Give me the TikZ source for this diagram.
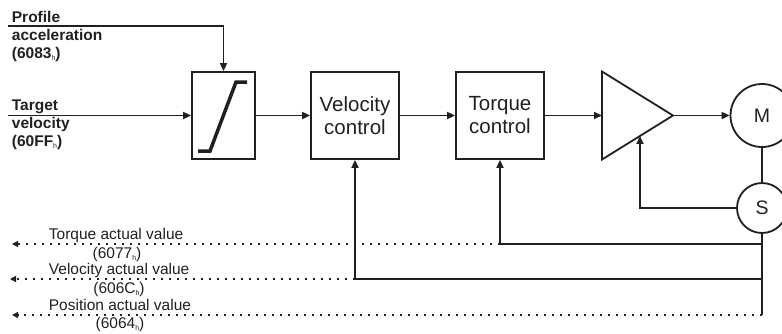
\documentclass[tikz,border=0pt]{standalone}
\usepackage{fontspec}
\setmainfont{Liberation Sans}
\usetikzlibrary{arrows.meta, positioning, calc}
\definecolor{cline}{HTML}{231F20}
\newcommand{\hsub}{\raisebox{-2pt}{\fontsize{7}{7}\selectfont\mdseries h}}
\tikzset{
  every picture/.style={line width=1.8pt, color=cline},
  block/.style={draw, minimum width=88pt, minimum height=87pt, align=center, inner sep=0pt, font=\fontsize{20.5}{23}\selectfont},
  wheel/.style={draw, circle, inner sep=0pt, font=\fontsize{19.5}{19.5}\selectfont},
  arrow/.style={-{Triangle[length=8pt, width=7pt]}},
  fbline/.style={dash pattern=on 2pt off 6pt, -{Triangle[length=6pt, width=6pt]}},
  rampline/.style={line width=3.5pt},
  inlabel/.style={font=\bfseries\fontsize{15.5}{18}\selectfont, align=left, anchor=north west, inner sep=0pt},
  fblabel/.style={font=\fontsize{15.5}{15.5}\selectfont, inner sep=0pt},
}

\begin{document}
\begin{tikzpicture}[x=1pt, y=-1pt]
  \useasboundingbox (0,0) rectangle (782,333);
  % blocks of the velocity loop
  \node[block, minimum width=63pt] (ramp) at (223.5,115.5) {};
  \node[block] (velctrl) at (355,115.5) {Velocity\\control};
  \node[block] (torqctrl) at (500,115.5) {Torque\\control};
  \begin{scope}[shift={(ramp.center)}]
    \draw[rampline] (-25.5,35.5) -- (-13.5,35.5) -- (12.5,-33.5) -- (23.5,-33.5);
  \end{scope}
  % amplifier
  \coordinate (amp top) at (602,71.5);
  \coordinate (amp bot) at (602,159.5);
  \coordinate (amp in) at (602,115.5);
  \coordinate (amp out) at (673,115.5);
  \coordinate (amp fb) at ($(amp bot)!0.535!(amp out)$);
  \draw (amp top) -- (amp out) -- (amp bot) -- cycle;
  % motor and sensor
  \node[wheel, minimum size=63pt] (M) at (762,115.5) {M};
  \node[wheel, minimum size=50pt] (S) at (762,208) {S};
  % inputs
  \node[inlabel] (acclabel) at (11,10) {Profile\\acceleration\\(6083\hsub)};
  \node[inlabel] (tgtlabel) at (11,99) {Target\\velocity\\(60FF\hsub)};
  \coordinate (acc in) at (8,26);
  \coordinate (vel in) at (8,115.5);
  \draw[arrow] (acc in) -| (ramp.north);
  \draw[arrow] (vel in) -- (ramp.west);
  % forward path
  \draw[arrow] (ramp) -- (velctrl);
  \draw[arrow] (velctrl) -- (torqctrl);
  \draw[arrow] (torqctrl) -- (amp in);
  \draw[arrow] (amp out) -- (M);
  \draw (M) -- (S);
  % feedback
  \coordinate (tq tap) at (500,244);
  \coordinate (vel tap) at (355,279);
  \coordinate (bus end) at (762,315);
  \coordinate (tq out) at (12,244);
  \coordinate (vel out) at (10,279);
  \coordinate (pos out) at (12,315);
  \draw[arrow] (S.west) -| (amp fb);
  \draw (S.south) -- (bus end);
  \draw[arrow] (S.south |- tq tap) -- (tq tap) -- (torqctrl.south);
  \draw[arrow] (S.south |- vel tap) -- (vel tap) -- (velctrl.south);
  \draw[fbline] (tq tap) -- (tq out);
  \draw[fbline] (vel tap) -- (vel out);
  \draw[fbline] (bus end) -- (pos out);
  \node[fblabel, anchor=base west] (tqname) at (48,239.5) {Torque actual value};
  \node[fblabel, anchor=north] (tqindex) at (117,246) {(6077\hsub)};
  \node[fblabel, anchor=base west] (velname) at (48,274.5) {Velocity actual value};
  \node[fblabel, anchor=north] (velindex) at (119,281) {(606C\hsub)};
  \node[fblabel, anchor=base west] (posname) at (48,310) {Position actual value};
  \node[fblabel, anchor=north] (posindex) at (120,316.5) {(6064\hsub)};
\end{tikzpicture}
\end{document}
